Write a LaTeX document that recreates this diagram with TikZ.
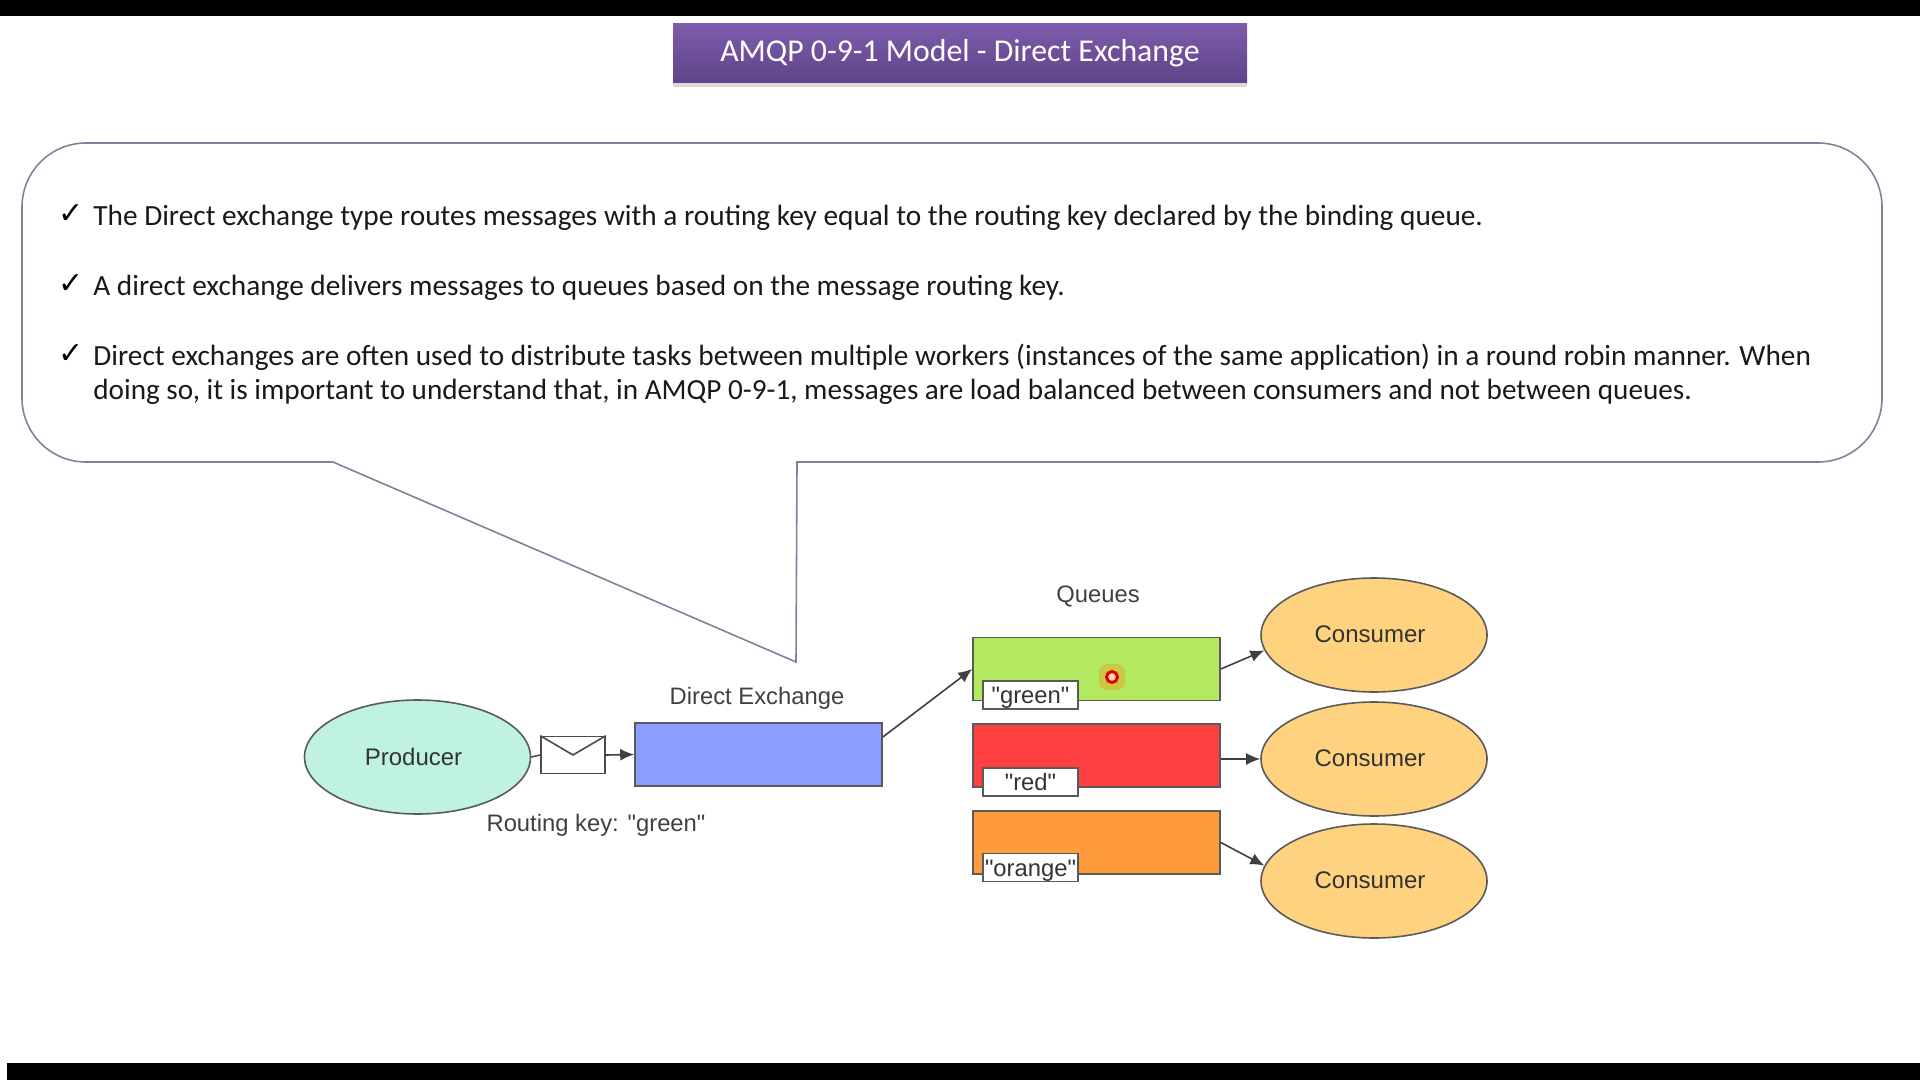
\documentclass[tikz,border=0pt]{standalone}
\usepackage{fontspec}
\setmainfont{Carlito}
\newfontfamily\diagfont{Liberation Sans}
\newfontfamily\tickfont{DejaVu Sans}
\usetikzlibrary{shapes.geometric,shadows,arrows.meta}
\definecolor{edgegray}{HTML}{5A5A5A}
\definecolor{bubblecol}{HTML}{85809A}
\definecolor{violet1}{HTML}{7D5CAC}
\definecolor{violet2}{HTML}{5F4488}
\definecolor{prodcol}{HTML}{BFF2E2}
\definecolor{exchcol}{HTML}{8A9EFF}
\definecolor{greencol}{HTML}{B5E861}
\definecolor{redcol}{HTML}{FF4040}
\definecolor{orangecol}{HTML}{FF9B3A}
\definecolor{conscol}{HTML}{FFD27F}
\tikzset{
  oval/.style={draw=edgegray,ellipse,thick,minimum width=113pt,minimum height=57pt,inner sep=0pt,font=\diagfont\fontsize{12}{14}\selectfont,text=black!80},
  consumer/.style={oval,fill=conscol,text height=8.6pt,text depth=1.2pt},
  queuebox/.style={draw=edgegray,thick,minimum width=123.5pt,minimum height=31.5pt,inner sep=0pt},
  keybox/.style={draw=edgegray,thick,fill=white,minimum width=47.5pt,minimum height=14pt,inner sep=0pt,text height=8.6pt,text depth=0pt,font=\diagfont\fontsize{11.9}{14}\selectfont,text=black!80},
  caption/.style={font=\diagfont\fontsize{11.9}{14}\selectfont,text=black!75},
  bodytext/.style={anchor=base west,inner sep=0pt,font=\fontsize{14.65}{14.65}\selectfont,text=black!90},
  tick/.style={anchor=base west,inner sep=0pt,font=\tickfont\fontsize{15}{15}\selectfont},
  link/.style={-{Latex[length=7pt,width=6pt]},thick,draw=black!75}
}
\begin{document}
\begin{tikzpicture}[x=.5pt,y=-.5pt]
\useasboundingbox (0,0) rectangle (1920,1080);
\fill[black] (0,0) rectangle (1920,16);
\fill[black] (7,1063) rectangle (1920,1080);
% title
\node[minimum width=287pt,minimum height=29.5pt,inner sep=0pt,top color=violet1,bottom color=violet2,drop shadow={shadow xshift=0pt,shadow yshift=-2pt,opacity=.3},text=white,font=\fontsize{15.9}{15.9}\selectfont] (title) at (960,53.5) {AMQP 0-9-1 Model - Direct Exchange};
% speech bubble
\draw[draw=bubblecol,line width=.8pt] (333,462) -- (796,662) -- (797,462) [rounded corners=32pt] -- (1882,462) -- (1882,143) -- (22,143) -- (22,462) [sharp corners] -- cycle;
\node[tick] (t1) at (58,224) {✓};
\node[tick] (t2) at (58,294) {✓};
\node[tick] (t3) at (58,364) {✓};
\node[bodytext] (l1) at (93,226) {The Direct exchange type routes messages with a routing key equal to the routing key declared by the binding queue.};
\node[bodytext] (l2) at (93,296) {A direct exchange delivers messages to queues based on the message routing key.};
\node[bodytext] (l3) at (93,365) {Direct exchanges are often used to distribute tasks between multiple workers (instances of the same application) in a round robin manner. When};
\node[bodytext,font=\fontsize{14.6}{14.6}\selectfont] (l4) at (93,399) {doing so, it is important to understand that, in AMQP 0-9-1, messages are load balanced between consumers and not between queues.};
% diagram
\node[oval,fill=prodcol] (prod) at (417.5,757) {\kern-4pt Producer};
\node[draw=black!70,thick,fill=white,minimum width=32pt,minimum height=18.5pt,inner sep=0pt] (mail) at (573,755) {};
\draw[draw=black!70,thick] (mail.north west) -- (mail.center) -- (mail.north east);
\node[draw=edgegray,thick,fill=exchcol,minimum width=123.5pt,minimum height=31.5pt,inner sep=0pt] (exch) at (758.5,754.5) {};
\node[caption] (exchlab) at (757,698) {Direct Exchange};
\node[caption] (keylab) at (596,825) {Routing key: "green"};
\node[caption] (queuelab) at (1098,596) {Queues};
\node[queuebox,fill=greencol] (qgreen) at (1096.5,669) {};
\node[queuebox,fill=redcol] (qred) at (1096.5,755.5) {};
\node[queuebox,fill=orangecol] (qorange) at (1096.5,842.5) {};
\node[keybox] (kgreen) at (1030.5,695) {"green"};
\node[keybox] (kred) at (1030.5,782) {"red"};
\node[keybox] (korange) at (1030.5,867.5) {"orange"};
\node[consumer] (c1) at (1374,635) {\kern-4pt Consumer};
\node[consumer] (c2) at (1374,759) {\kern-4pt Consumer};
\node[consumer] (c3) at (1374,881) {\kern-4pt Consumer};
\draw[thick,draw=black!70] (prod.east) -- (mail.west);
\draw[link] (mail.east) -- (exch.west);
\draw[link] (exch.8) -- (qgreen.west);
\draw[link] (qgreen.east) -- (c1.188);
\draw[link] (qred.east |- c2.west) -- (c2.west);
\draw[link] (qorange.east) -- (c3.172);
% pointer
\node[fill=orange!30!greencol,rounded corners=4pt,minimum size=13pt,inner sep=0pt] (halo) at (1112,677) {};
\node[draw=red!90!black,circle,line width=1.5pt,minimum size=5.5pt,inner sep=0pt,fill=white!70!orange] (ring) at (1112,677) {};
\end{tikzpicture}
\end{document}
